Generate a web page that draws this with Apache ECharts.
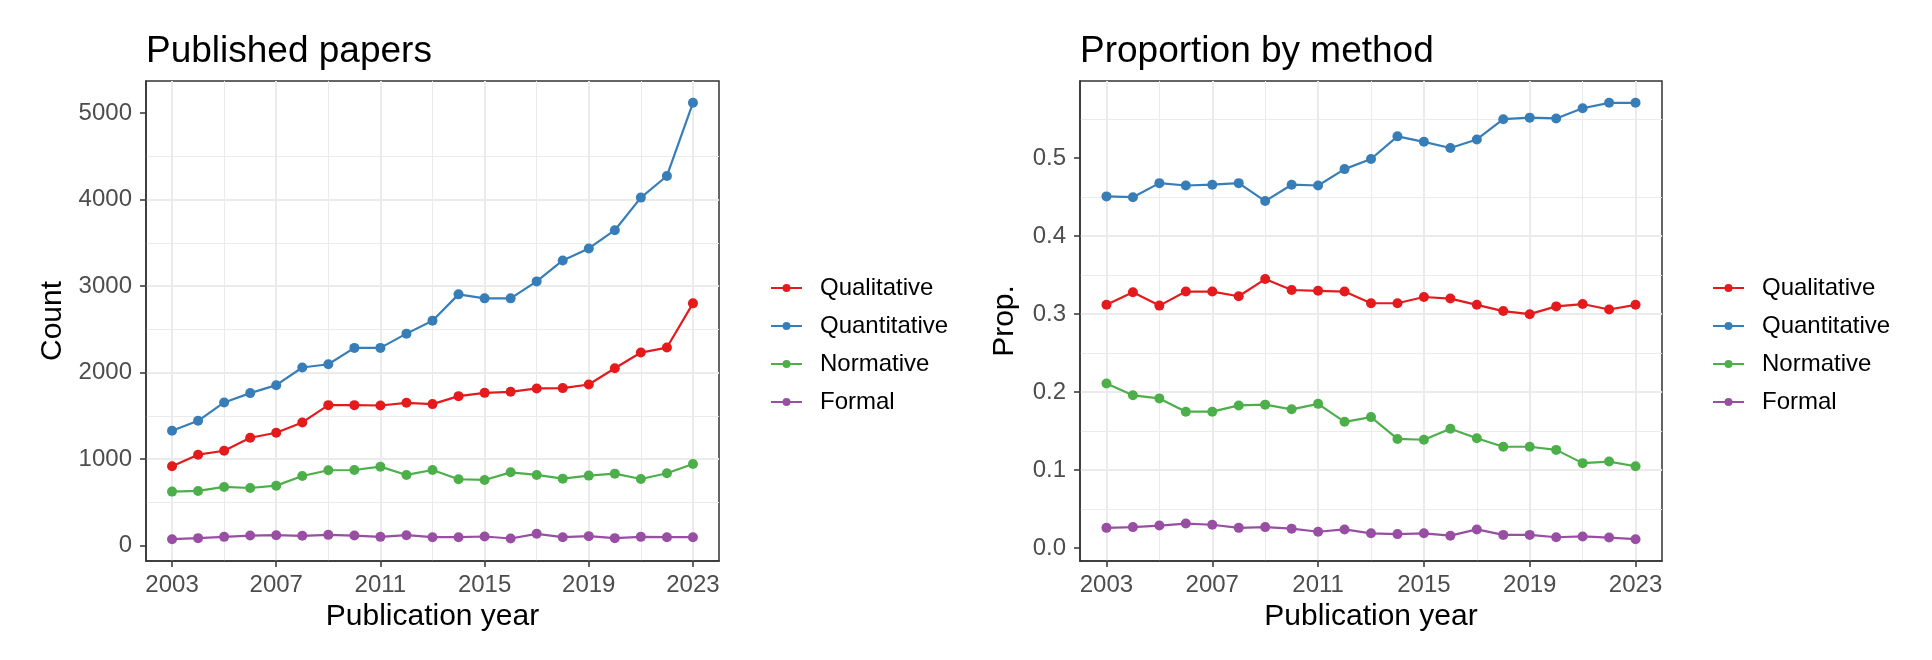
<!DOCTYPE html>
<html><head><meta charset="utf-8">
<script src="https://cdn.jsdelivr.net/npm/echarts@6/dist/echarts.min.js"></script>
<style>html,body{margin:0;padding:0;background:#fff}#c{width:1932px;height:660px}</style>
</head><body><div id="c"></div>
<script>
// ---------- data ----------
const years = [2003,2004,2005,2006,2007,2008,2009,2010,2011,2012,2013,2014,2015,2016,2017,2018,2019,2020,2021,2022,2023];
const axisYears = [2002,2003,2004,2005,2006,2007,2008,2009,2010,2011,2012,2013,2014,2015,2016,2017,2018,2019,2020,2021,2022,2023,2024];
const yearTicks = [2003,2007,2011,2015,2019,2023];
const yearMinorLines = [2005,2009,2013,2017,2021];
const methods = ['Qualitative','Quantitative','Normative','Formal'];

const countQualitative  = [916,1050,1096,1246,1304,1423,1623,1623,1619,1650,1635,1727,1765,1777,1816,1820,1862,2050,2231,2289,2800];
const countQuantitative = [1327,1442,1654,1762,1854,2058,2096,2285,2285,2450,2600,2904,2858,2858,3054,3296,3435,3646,4023,4273,5119];
const countNormative    = [623,631,677,665,692,804,870,873,912,816,873,766,758,846,816,773,808,831,769,835,942];
const countFormal       = [73,85,100,115,119,112,123,115,100,119,96,96,104,81,135,96,108,85,100,96,96];

const propQualitative  = [0.312,0.328,0.311,0.329,0.329,0.323,0.345,0.331,0.330,0.329,0.314,0.314,0.322,0.320,0.312,0.304,0.300,0.310,0.313,0.306,0.312];
const propQuantitative = [0.451,0.450,0.468,0.465,0.466,0.468,0.445,0.466,0.465,0.486,0.499,0.528,0.521,0.513,0.524,0.550,0.552,0.551,0.564,0.571,0.571];
const propNormative    = [0.211,0.196,0.192,0.175,0.175,0.183,0.184,0.178,0.185,0.162,0.168,0.140,0.139,0.153,0.141,0.130,0.130,0.126,0.109,0.111,0.105];
const propFormal       = [0.026,0.027,0.029,0.0315,0.030,0.026,0.027,0.025,0.021,0.024,0.019,0.018,0.019,0.016,0.024,0.017,0.017,0.014,0.015,0.0136,0.0115];

const countTicks = [0,1000,2000,3000,4000,5000];
const propTicks = [0,0.1,0.2,0.3,0.4,0.5];

const titles = ['Published papers','Proportion by method'];
const yNames = ['Count','Prop.'];
const xName = 'Publication year';

// ---------- styling ----------
const FONT = '"Liberation Sans", Arial, Helvetica, sans-serif';
const colors = ['#E41A1C','#377EB8','#4DAF4A','#984EA3'];
const countSets = [countQualitative,countQuantitative,countNormative,countFormal];
const propSets = [propQualitative,propQuantitative,propNormative,propFormal];

function expandLimits(sets){
  const all = [].concat(...sets);
  const lo = Math.min(...all), hi = Math.max(...all);
  const pad = (hi - lo) * 0.05;
  return [lo - pad, hi + pad];
}
const countLim = expandLimits(countSets);
const propLim = expandLimits(propSets);

const grids = [
  {left:146, right:1932-719, top:81, bottom:660-561},
  {left:1080, right:1932-1662, top:81, bottom:660-561}
];
grids.forEach(g=>{ g.show = true; g.borderColor = '#333'; g.borderWidth = 1.5; g.backgroundColor = 'transparent'; });

const cats = axisYears.map(String);
function majorX(gi){
  return {
    type:'category', gridIndex:gi, data:cats, boundaryGap:false, position:'bottom',
    axisLine:{show:true, onZero:false, lineStyle:{color:'#333', width:1.5}},
    axisTick:{show:true, length:6, lineStyle:{color:'#333', width:1.5},
      interval:(i,v)=>yearTicks.indexOf(Number(v))>=0},
    axisLabel:{show:true, margin:12, color:'#4d4d4d', fontSize:24, fontFamily:FONT,
      interval:(i,v)=>yearTicks.indexOf(Number(v))>=0},
    splitLine:{show:true, lineStyle:{color:'#ebebeb', width:2},
      interval:(i,v)=>yearTicks.indexOf(Number(v))>=0},
    name:xName, nameLocation:'middle', nameGap:38,
    nameTextStyle:{fontSize:30, color:'#000', fontFamily:FONT, lineHeight:30}
  };
}
function minorX(gi){
  return {
    type:'category', gridIndex:gi, data:cats, boundaryGap:false, position:'top',
    axisLine:{show:false, onZero:false}, axisTick:{show:false}, axisLabel:{show:false},
    splitLine:{show:true, lineStyle:{color:'#ebebeb', width:1},
      interval:(i,v)=>yearMinorLines.indexOf(Number(v))>=0}
  };
}
function yAxis(gi, lim, ticks, fmt, name, gap){
  return {
    type:'value', gridIndex:gi, min:lim[0], max:lim[1], splitNumber:5,
    axisLine:{show:true, onZero:false, lineStyle:{color:'#333', width:1.5}},
    axisTick:{show:true, length:6, lineStyle:{color:'#333', width:1.5}, customValues:ticks},
    axisLabel:{customValues:ticks, margin:14, color:'#4d4d4d', fontSize:24, fontFamily:FONT, formatter:fmt},
    splitLine:{show:true, showMinLine:false, showMaxLine:false, lineStyle:{color:'#ebebeb', width:2}},
    minorTick:{show:false, splitNumber:2},
    minorSplitLine:{show:true, lineStyle:{color:'#ebebeb', width:1}},
    name:name, nameLocation:'middle', nameGap:gap,
    nameTextStyle:{fontSize:30, color:'#000', fontFamily:FONT, lineHeight:30}
  };
}

const series = [];
[countSets, propSets].forEach((sets, p)=>{
  sets.forEach((vals, m)=>{
    series.push({
      type:'line', name:methods[m], xAxisIndex:p*2, yAxisIndex:p,
      data: years.map((y,i)=>[String(y), vals[i]]),
      symbol:'circle', symbolSize:10, showSymbol:true,
      lineStyle:{width:2.2, color:colors[m]}, itemStyle:{color:colors[m]},
      emphasis:{disabled:true}, z:3+m
    });
  });
});

function legend(left){
  return {
    data:methods, orient:'vertical', left:left, top:276, padding:0,
    itemWidth:31, itemHeight:10, itemGap:14,
    textStyle:{fontSize:24, color:'#000', fontFamily:FONT, lineHeight:24, padding:[0,0,0,13]}
  };
}

const option = {
  animation:false,
  backgroundColor:'#fff',
  color:colors,
  title:[
    {text:titles[0], left:146, top:33, padding:0, textStyle:{fontSize:37, fontWeight:'normal', color:'#000', fontFamily:FONT, lineHeight:37}},
    {text:titles[1], left:1080, top:33, padding:0, textStyle:{fontSize:37, fontWeight:'normal', color:'#000', fontFamily:FONT, lineHeight:37}}
  ],
  grid:grids,
  xAxis:[majorX(0), minorX(0), majorX(1), minorX(1)],
  yAxis:[
    yAxis(0, countLim, countTicks, v=>String(Math.round(v)), yNames[0], 78),
    yAxis(1, propLim, propTicks, v=>Number(v).toFixed(1), yNames[1], 60)
  ],
  legend:[legend(770), legend(1712)],
  series:series
};
const chart = echarts.init(document.getElementById('c'), null, {renderer:'canvas'});
chart.setOption(option);
</script></body></html>
